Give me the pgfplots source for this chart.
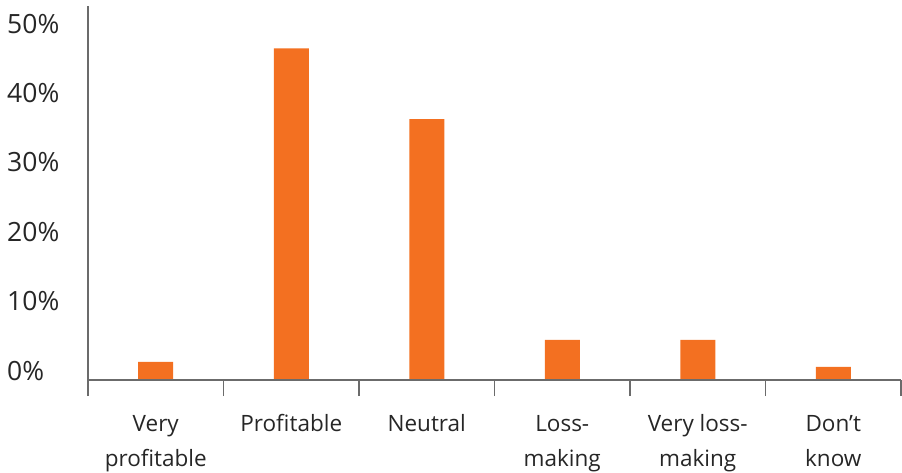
\documentclass[border=0pt]{standalone}
\usepackage{pgfplots}
\pgfplotsset{compat=1.18}
\usepackage{fontspec}
\setmainfont{Open Sans}
\definecolor{barorange}{HTML}{F37021}
\definecolor{axisgray}{HTML}{6B6B6B}

\begin{document}
\begin{tikzpicture}
\begin{axis}[
  at={(0pt,0pt)}, anchor=south west,
  scale only axis, width=813pt, height=374pt,
  xmin=-0.5, xmax=5.5, ymin=0, ymax=53.9,
  axis x line*=bottom, axis y line*=left,
  axis line style={axisgray, line width=1.8pt},
  every tick/.style={axisgray, line width=1.8pt},
  tick align=outside,
  xtick={0,1,2,3,4,5},
  xticklabels={{\strut Very\\profitable},{\strut Profitable},{\strut Neutral},{\strut Loss-\\making},{\strut Very loss-\\making},{\strut Don’t\\know}},
  minor xtick={-0.5,0.5,1.5,2.5,3.5,4.5,5.5},
  major tick length=0pt,
  minor tick length=16pt,
  xticklabel style={anchor=north, align=center, inner sep=0pt, yshift=-27pt,
    font=\fontsize{22.5}{35}\selectfont, text=black!85},
  ytick={0,10,20,30,40,50},
  yticklabels={0\%,10\%,20\%,30\%,40\%,50\%},
  yticklabel style={anchor=base west, inner sep=0pt, xshift=-81pt,
    font=\fontsize{26.5}{30}\selectfont, text=black!85},
  ybar, bar width=35pt,
  axis on top,
  clip=false,
]
\addplot[fill=barorange, draw=none] coordinates {
  (0,2.6) (1,47.8) (2,37.6) (3,5.8) (4,5.8) (5,1.9)
};
\end{axis}
\pgfresetboundingbox
\path (-88pt,-92pt) rectangle (814pt,380pt);
\end{tikzpicture}
\end{document}
